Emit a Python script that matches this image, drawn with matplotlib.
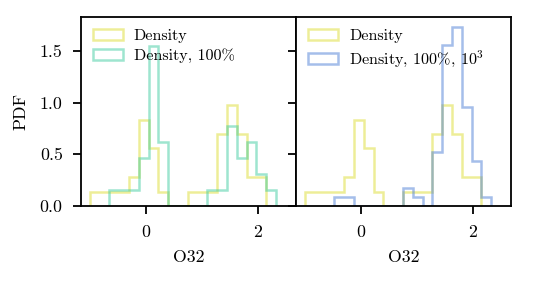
import numpy as np
import matplotlib
matplotlib.use("Agg")
import matplotlib.pyplot as plt

plt.rcParams["font.family"] = "serif"
plt.rcParams["font.serif"] = ["cmr10"]
plt.rcParams["mathtext.fontset"] = "cm"
plt.rcParams["axes.formatter.use_mathtext"] = True
plt.rcParams["font.size"] = 12.8

# common bin grid (width 0.175)
edges = np.round(np.arange(-1.0, 2.3251, 0.175), 3)

# counts per bin on that grid
counts_density = [1, 1, 1, 1, 2, 6, 4, 1, 0, 0, 1, 1, 1, 5, 7, 5, 2, 2, 0]
counts_100 = [0, 0, 1, 1, 1, 3, 10, 4, 0, 0, 0, 0, 1, 1, 5, 3, 4, 2, 1]
counts_100_1e3 = [0, 0, 0, 1, 1, 0, 0, 0, 0, 0, 2, 1, 0, 6, 18, 20, 11, 5, 1]

c_yellow = "#dddd33"
c_teal = "#3fcca0"
c_blue = "#4c7fd6"

centers = 0.5 * (edges[:-1] + edges[1:])


def step_hist(ax, counts, color, label):
    counts = np.asarray(counts)
    nz = np.nonzero(counts)[0]
    lo, hi = nz[0], nz[-1] + 1
    ax.hist(centers[lo:hi], bins=edges[lo:hi + 1], weights=counts[lo:hi],
            density=True, histtype="step", color=color, alpha=0.5,
            linewidth=1.8, label=label)


fig, (ax1, ax2) = plt.subplots(1, 2, sharex=True, sharey=True,
                               figsize=(5.38, 2.87), dpi=100)
fig.subplots_adjust(left=0.150, right=0.950, bottom=0.282, top=0.942, wspace=0)

step_hist(ax1, counts_density, c_yellow, "Density")
step_hist(ax1, counts_100, c_teal, "Density, 100%")
step_hist(ax2, counts_density, c_yellow, "Density")
step_hist(ax2, counts_100_1e3, c_blue, r"Density, 100%, $10^3$")

for ax in (ax1, ax2):
    ax.set_xlim(-1.16, 2.68)
    ax.set_ylim(0, 1.83)
    ax.set_xticks([0, 2])
    ax.set_yticks([0.0, 0.5, 1.0, 1.5])
    ax.tick_params(direction="out", length=6, width=1.3, pad=7)
    for s in ax.spines.values():
        s.set_linewidth(1.3)
    ax.set_xlabel("O32", labelpad=7)
    ax.legend(loc="upper left", frameon=False, fontsize=11.6,
              handlelength=1.85, handletextpad=0.7, borderaxespad=0.35,
              labelspacing=0.35)

ax1.set_ylabel("PDF", labelpad=8)
ax1.yaxis.set_major_formatter(matplotlib.ticker.FormatStrFormatter("%.1f"))

fig.savefig("out.png", dpi=100)
